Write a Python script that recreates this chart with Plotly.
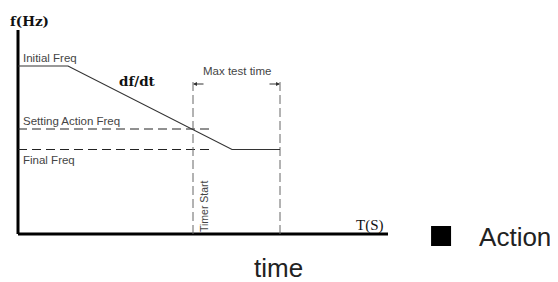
import plotly.graph_objects as go

# ---- data (abstract time / frequency units) ----
axis_t_end = 37.0
axis_f_top = 20.4

profile_t = [0.0, 5.0, 21.4, 26.2]          # frequency profile
profile_f = [16.8, 16.8, 8.45, 8.45]

setting_action_freq = 10.5
final_freq = 8.45
ref_line_t = [0.0, 19.4]

timer_start_t = 17.5
max_test_t = 26.2
marker_top_f = 15.3
arrow_f = 15.0

legend_name = "Action"
x_title = "time"

fig = go.Figure()

# axes of the diagram
fig.add_trace(go.Scatter(x=[0, axis_t_end], y=[0, 0], mode="lines",
                         line=dict(color="#000", width=3), showlegend=False, hoverinfo="skip"))
fig.add_trace(go.Scatter(x=[0, 0], y=[0, axis_f_top], mode="lines",
                         line=dict(color="#000", width=3), showlegend=False, hoverinfo="skip"))

# horizontal dashed reference lines
for fv in [setting_action_freq, final_freq]:
    fig.add_trace(go.Scatter(x=ref_line_t, y=[fv, fv], mode="lines",
                             line=dict(color="#222", width=1, dash="9px,5px"),
                             showlegend=False, hoverinfo="skip"))

# vertical dashed markers
for tv in [timer_start_t, max_test_t]:
    fig.add_trace(go.Scatter(x=[tv, tv], y=[0, marker_top_f], mode="lines",
                             line=dict(color="#666", width=1, dash="9px,4px"),
                             showlegend=False, hoverinfo="skip"))

# frequency profile
fig.add_trace(go.Scatter(x=profile_t, y=profile_f, mode="lines",
                         line=dict(color="#333", width=1.2), showlegend=False, hoverinfo="skip"))

# legend entry
fig.add_trace(go.Scatter(x=[None], y=[None], mode="markers", name=legend_name,
                         marker=dict(symbol="square", color="#000", size=16,
                                     line=dict(color="#000", width=4))))

sans = "Liberation Sans, Arial, sans-serif"
txt = dict(family=sans, size=11.5, color="#444")

ann = []
ann.append(dict(x=0.3, y=(234 - 58) / 10, text="Initial Freq", showarrow=False, xanchor="left", font=txt))
ann.append(dict(x=0.3, y=(234 - 120.5) / 10, text="Setting Action Freq", showarrow=False, xanchor="left", font=txt))
ann.append(dict(x=0.3, y=(234 - 160) / 10, text="Final Freq", showarrow=False, xanchor="left", font=txt))
ann.append(dict(x=(237 - 18) / 10, y=(234 - 71) / 10, text="Max test time", showarrow=False, font=txt))
ann.append(dict(x=(204 - 18) / 10, y=(234 - 206) / 10, text="Timer Start", showarrow=False,
                textangle=-90, font=dict(family=sans, size=10.5, color="#444")))
ann.append(dict(x=-1.0, y=(234 - 21) / 10, text="<b>f(Hz)</b>", showarrow=False, xanchor="left",
                font=dict(family="DejaVu Serif, serif", size=13.5, color="#111")))
ann.append(dict(x=(137 - 18) / 10, y=(234 - 81) / 10, text="<b>df/dt</b>", showarrow=False,
                font=dict(family="DejaVu Serif, serif", size=13.5, color="#111")))
ann.append(dict(x=(370 - 18) / 10, y=(234 - 225) / 10, text="T(S)", showarrow=False,
                font=dict(family="Liberation Serif, serif", size=15, color="#111")))
# Max test time arrows
ann.append(dict(x=timer_start_t, y=arrow_f, ax=timer_start_t + 1.2, ay=arrow_f,
                axref="x", ayref="y", showarrow=True, arrowhead=2, arrowsize=0.8,
                arrowwidth=1, arrowcolor="#333", text=""))
ann.append(dict(x=max_test_t, y=arrow_f, ax=max_test_t - 1.2, ay=arrow_f,
                axref="x", ayref="y", showarrow=True, arrowhead=2, arrowsize=0.8,
                arrowwidth=1, arrowcolor="#333", text=""))
# x title
ann.append(dict(xref="paper", yref="paper", x=0.484, y=-0.062, yanchor="middle",
                text=x_title, showarrow=False, font=dict(family=sans, size=26, color="#222")))

fig.update_layout(
    width=558, height=282,
    margin=dict(l=0, r=0, t=0, b=37),
    paper_bgcolor="white", plot_bgcolor="white",
    annotations=ann,
    xaxis=dict(range=[-1.0, 54.8], showgrid=False, zeroline=False,
               showticklabels=False, ticks="", showline=False),
    yaxis=dict(range=[-1.9, 22.6], showgrid=False, zeroline=False, showticklabels=False,
               ticks="", showline=False),
    legend=dict(x=0.708, xanchor="left", y=0.069, yanchor="middle", itemwidth=66,
                font=dict(family=sans, size=26, color="#222"),
                bgcolor="rgba(0,0,0,0)"),
)

fig.write_html("out.html")
